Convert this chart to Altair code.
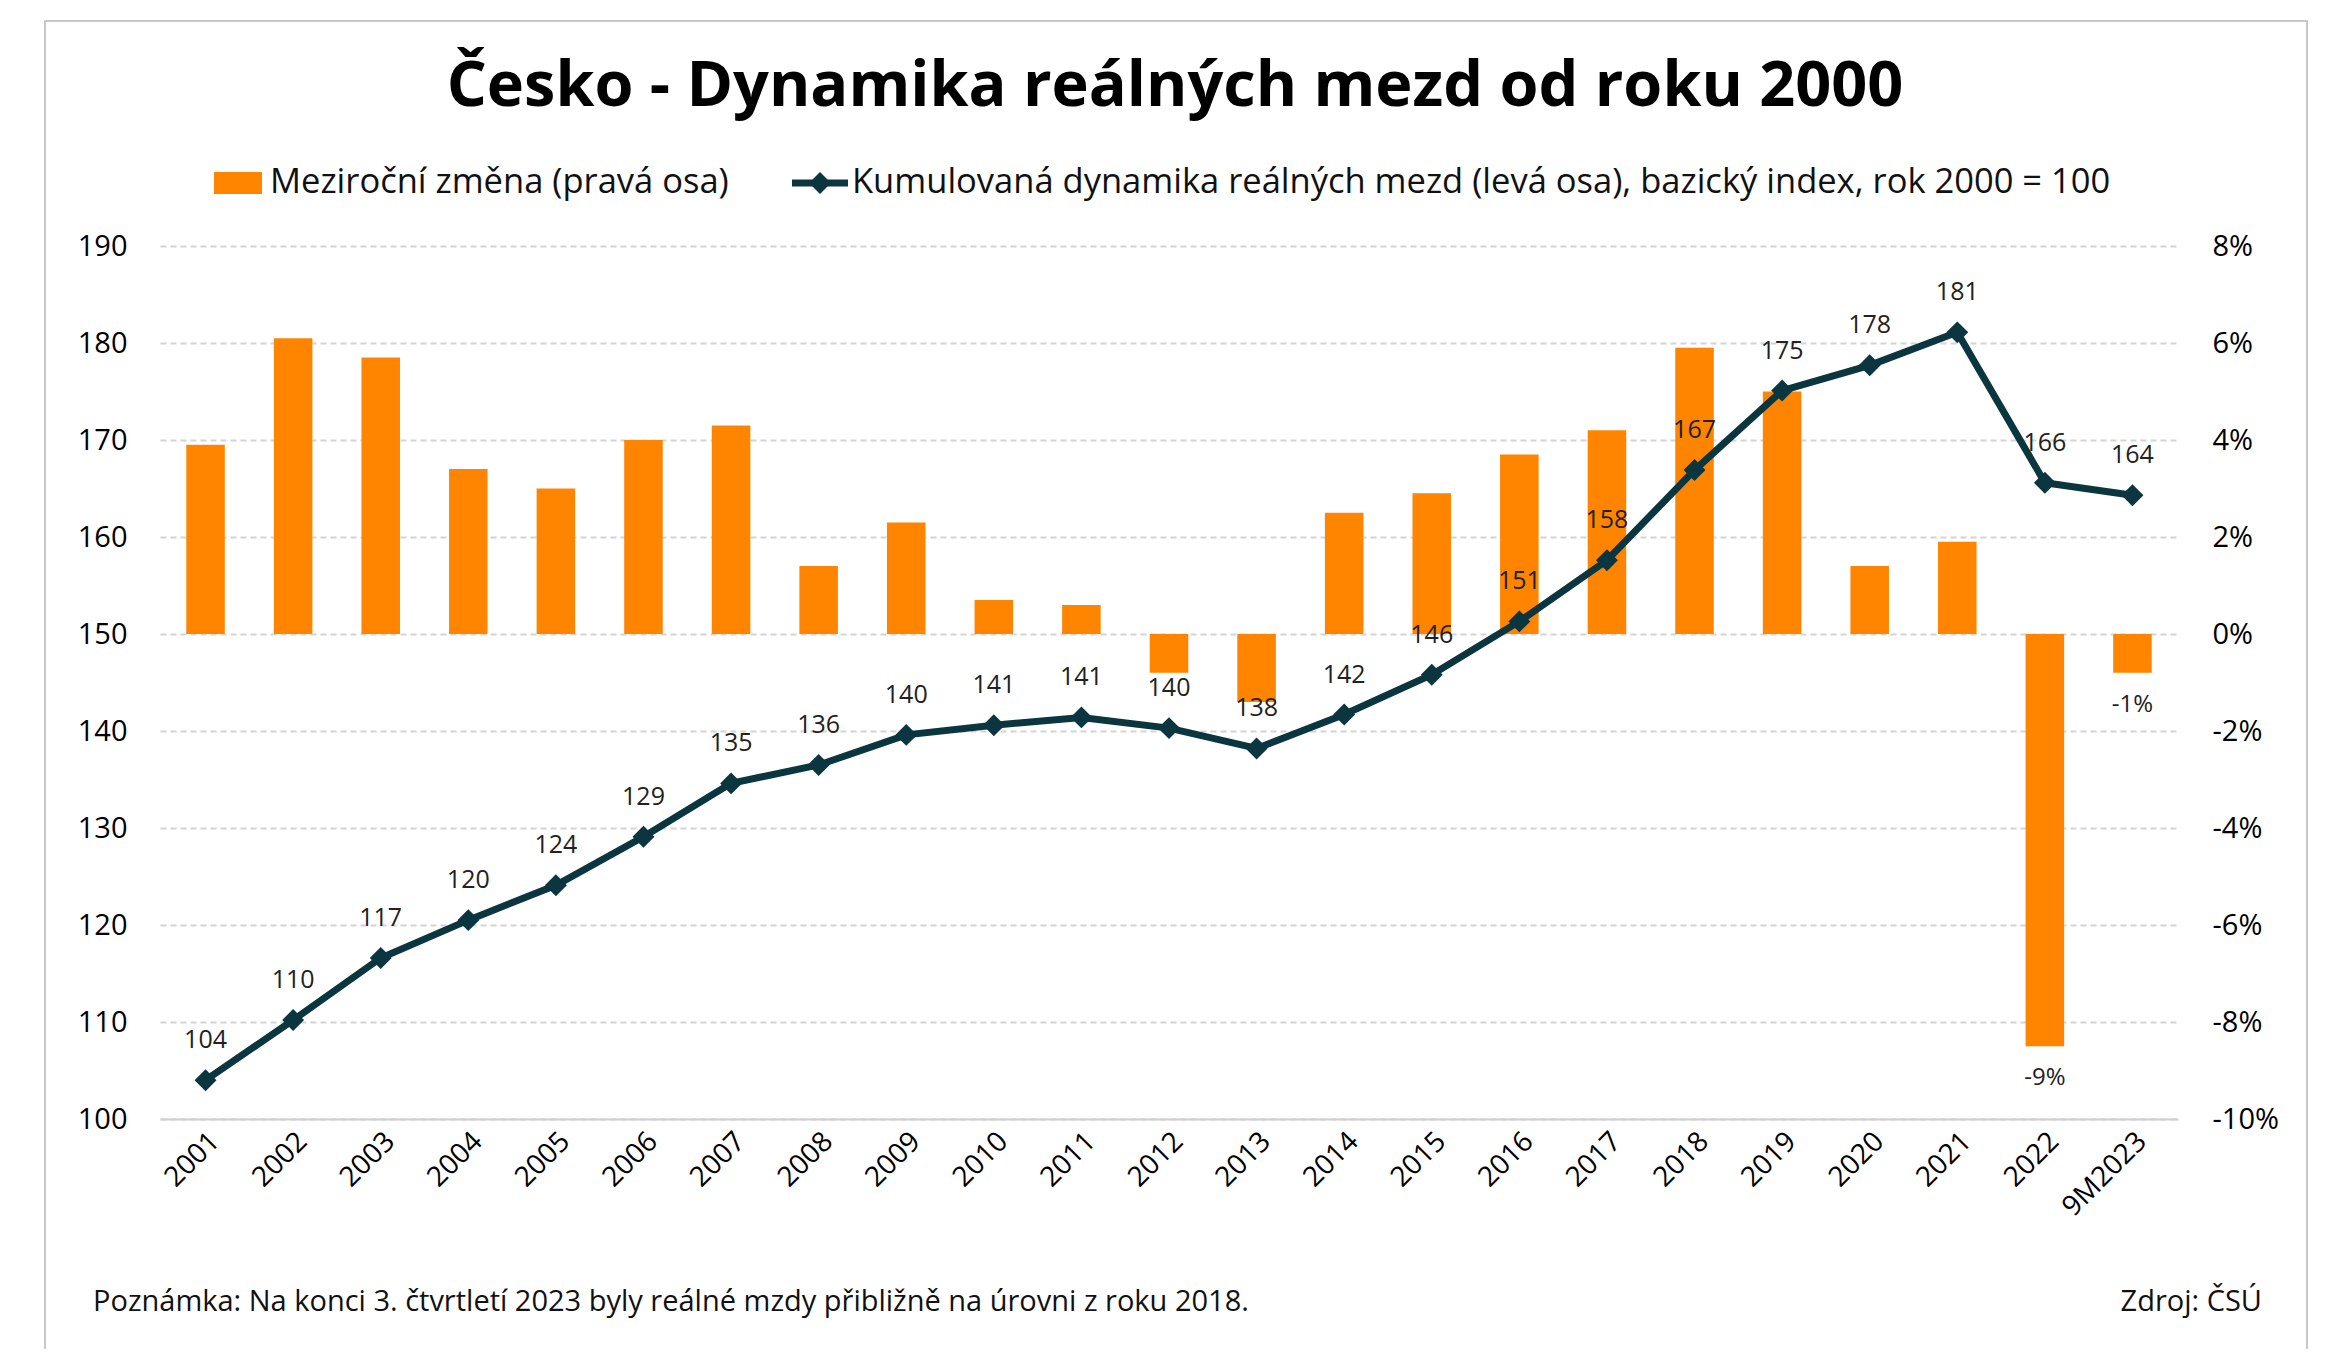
import pandas as pd
import altair as alt

roky = ["2001", "2002", "2003", "2004", "2005", "2006", "2007", "2008", "2009", "2010",
        "2011", "2012", "2013", "2014", "2015", "2016", "2017", "2018", "2019", "2020",
        "2021", "2022", "9M2023"]
zmena = [3.9, 6.1, 5.7, 3.4, 3.0, 4.0, 4.3, 1.4, 2.3, 0.7, 0.6, -0.8, -1.4, 2.5, 2.9,
         3.7, 4.2, 5.9, 5.0, 1.4, 1.9, -8.5, -0.8]
index = [104.0, 110.2, 116.6, 120.5, 124.1, 129.1, 134.6, 136.5, 139.6, 140.6, 141.4,
         140.3, 138.2, 141.7, 145.8, 151.3, 157.6, 166.9, 175.1, 177.7, 181.1, 165.6, 164.3]
popisky_zmena = {"2022": "-9%", "9M2023": "-1%"}

df = pd.DataFrame({"rok": roky, "zmena": zmena, "index": index})
df["popis"] = df["index"].round(0).astype(int).astype(str)
df_bar_lbl = df[df["rok"].isin(popisky_zmena)].copy()
df_bar_lbl["txt"] = df_bar_lbl["rok"].map(popisky_zmena)

FONT = "Open Sans"
ORANGE = "#FF8500"
DARK = "#0B3640"
W, H = 2018, 873

x = alt.X("rok:N", sort=roky, title=None,
          scale=alt.Scale(paddingInner=0.56, paddingOuter=0.3),
          axis=alt.Axis(labelAngle=-45, labelFontSize=28, labelFont=FONT, labelColor="#000",
                        ticks=False, domainColor="#d0d0d0", domainWidth=2, labelPadding=8))
y_right = alt.Y("zmena:Q", title=None,
                scale=alt.Scale(domain=[-10, 8], nice=False),
                axis=alt.Axis(orient="right", values=list(range(-10, 9, 2)),
                              labelExpr="datum.value + '%'", grid=False, domain=False,
                              ticks=False, labelFontSize=29, labelFont=FONT,
                              labelColor="#000", labelPadding=34))
y_left = alt.Y("index:Q", title=None,
               scale=alt.Scale(domain=[100, 190], nice=False),
               axis=alt.Axis(values=list(range(100, 191, 10)), grid=True,
                             gridDash=[6, 4], gridColor="#d4d4d4", gridWidth=2,
                             domain=False, ticks=False, labelFontSize=29, labelFont=FONT,
                             labelColor="#000", labelPadding=33))

base = alt.Chart(df)
bars = base.mark_bar(color=ORANGE).encode(x=x, y=y_right)
bar_lbl = alt.Chart(df_bar_lbl).mark_text(fontSize=24, font=FONT, dy=32, color="#222").encode(
    x=x, y=y_right, text="txt:N")
bars_layer = alt.layer(bars, bar_lbl)

line = base.mark_line(color=DARK, strokeWidth=7).encode(x=x, y=y_left)
pts = base.mark_point(shape="diamond", filled=True, size=480, color=DARK, opacity=1).encode(
    x=x, y=y_left)
line_lbl = base.mark_text(fontSize=25, font=FONT, dy=-40, color="#222").encode(
    x=x, y=y_left, text="popis:N")
line_layer = alt.layer(line, pts, line_lbl)

one = alt.Chart(pd.DataFrame({"a": [0]}))
title = one.mark_text(text="Česko - Dynamika reálných mezd od roku 2000", fontSize=63,
                      fontWeight="bold", font=FONT, color="#000").encode(
    x=alt.value(1015), y=alt.value(-159))
leg_rect = one.mark_rect(color=ORANGE).encode(
    x=alt.value(54), x2=alt.value(102), y=alt.value(-74), y2=alt.value(-52))
leg_t1 = one.mark_text(text="Meziroční změna (pravá osa)", fontSize=34.5, font=FONT,
                       align="left", color="#111").encode(x=alt.value(110), y=alt.value(-63))
leg_line = one.mark_rule(color=DARK, strokeWidth=7).encode(
    x=alt.value(632), x2=alt.value(688), y=alt.value(-63))
leg_pt = one.mark_point(shape="diamond", filled=True, size=480, color=DARK, opacity=1).encode(
    x=alt.value(660), y=alt.value(-63))
leg_t2 = one.mark_text(text="Kumulovaná dynamika reálných mezd (levá osa), bazický index, rok 2000 = 100",
                       fontSize=34.5, font=FONT, align="left", color="#111").encode(
    x=alt.value(692), y=alt.value(-63))
note = one.mark_text(text="Poznámka: Na konci 3. čtvrtletí 2023 byly reálné mzdy přibližně na úrovni z roku 2018.",
                     fontSize=29, font=FONT, align="left", color="#111").encode(
    x=alt.value(-67), y=alt.value(1056))
src = one.mark_text(text="Zdroj: ČSÚ", fontSize=29, font=FONT, align="right",
                    color="#111").encode(x=alt.value(2102), y=alt.value(1056))
frame = one.mark_rect(fill=None, stroke="#c8c8c8", strokeWidth=2).encode(
    x=alt.value(-115), x2=alt.value(2147), y=alt.value(-225), y2=alt.value(1107))

chart = alt.layer(
    bars_layer, line_layer, frame, title, leg_rect, leg_t1, leg_line, leg_pt, leg_t2, note, src
).resolve_scale(y="independent").properties(
    width=W, height=H, autosize="none",
    padding={"left": 152, "top": 238, "right": 153, "bottom": 230}
).configure_view(stroke=None)

chart.save("out.html", embed_options={"renderer": "svg", "actions": False})
